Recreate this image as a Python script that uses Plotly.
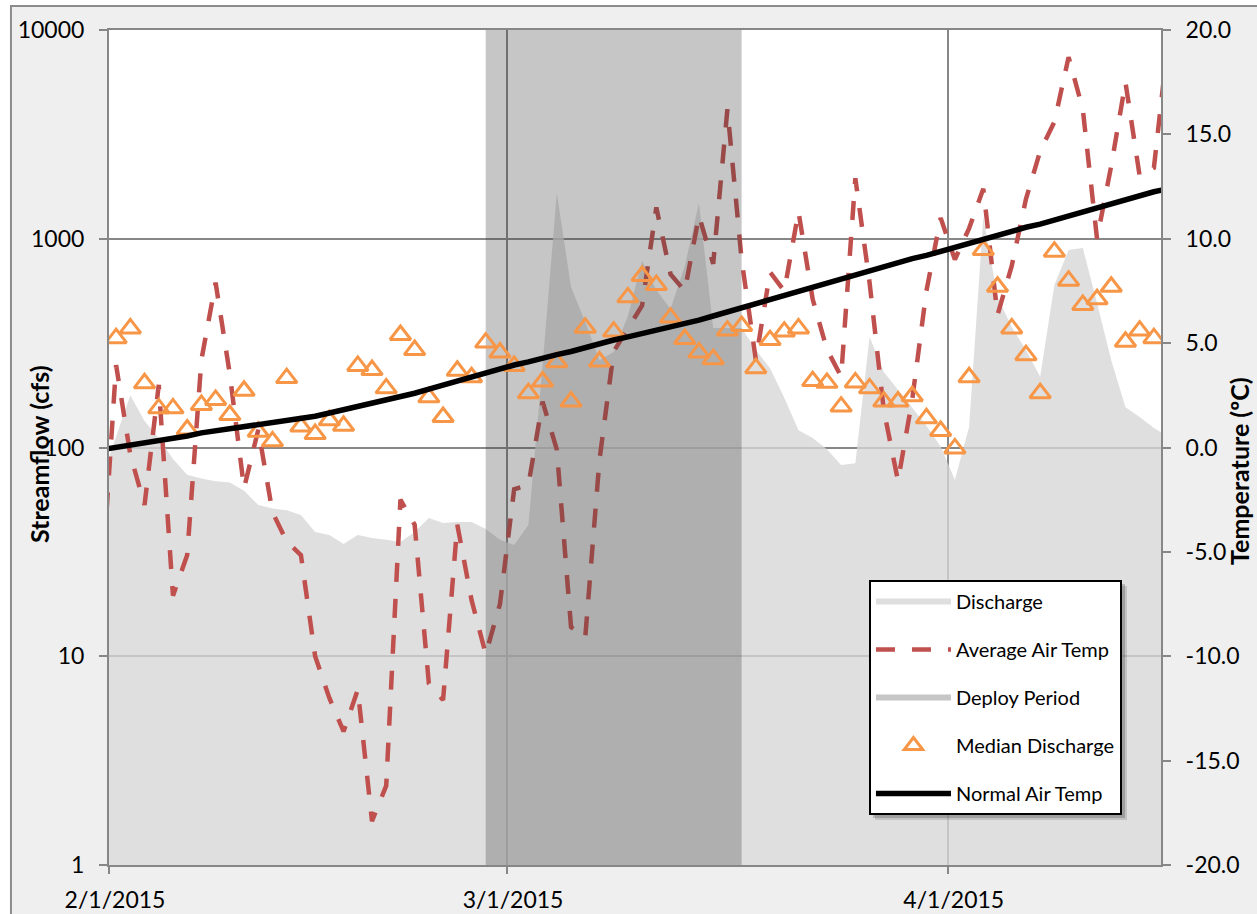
import pandas as pd
import plotly.graph_objects as go

# Daily series, 1/31/2015 - 4/16/2015. The first and last day fall just
# outside the axis window, so the traces run cleanly into the plot edges.
dates = pd.date_range("2015-01-31", "2015-04-16", freq="D")

discharge_cfs = [
    71, 113, 178, 134, 111, 88, 74, 71, 69, 68, 62, 53, 51, 50, 47.5, 39.4,
    38.1, 34.5, 38.1, 36.9, 36.1, 35.3, 39.4, 45.9, 43.5, 44, 44, 40.7, 36.1,
    34.1, 42.5, 248, 1656, 587, 399, 262, 287, 427, 782, 568, 461, 740, 1484,
    374, 374, 374, 293, 240, 173, 121, 111, 98, 82.5, 84, 338, 230, 189, 155,
    127, 101, 70, 125, 1271, 526, 378, 293, 218, 600, 883, 903, 492, 262, 156,
    140, 124, 113,
]

avg_air_temp_c = [
    -6.5, 3.95, -0.35, -2.75, 3.0, -7.1, -5.15, 4.2, 7.9, 3.5, -1.95, 0.85,
    -3.1, -4.5, -5.15, -10.0, -12.0, -13.6, -11.6, -17.9, -16.2, -2.5, -3.7,
    -11.3, -12.1, -3.7, -7.3, -9.9, -7.5, -2.0, -1.8, 2.2, -0.1, -8.6, -9.1,
    -0.6, 4.6, 5.7, 6.8, 11.5, 8.3, 7.5, 11.1, 8.8, 16.2, 9.0, 4.2, 8.4, 7.5,
    11.3, 7.1, 4.7, 3.4, 12.9, 7.9, 1.8, -1.6, 2.3, 7.5, 11.0, 9.0, 10.5, 12.4,
    6.35, 8.7, 11.9, 14.2, 15.6, 18.7, 16.2, 10.0, 13.5, 17.5, 13.0, 13.4, 19.5,
]

median_discharge_cfs = [
    None,
    334, 372, 203, 154, 154, 122, 160, 169, 143, 187, 119, 107, 215, 126, 116,
    135, 127, 246, 235, 192, 346, 293, 174, 140, 233, 217, 318, 285, 246, 182,
    207, 256, 166, 375, 258, 359, 524, 663, 600, 419, 331, 285, 265, 363, 382,
    240, 327, 359, 372, 208, 204, 157, 205, 192, 166, 166, 176, 138, 120, 99,
    217, 883, 589, 372, 277, 182, 867, 630, 482, 513, 589, 321, 363, 334,
    None,
]

normal_air_temp_c = [
    -0.1, 0.0, 0.1, 0.2, 0.3, 0.45, 0.55, 0.7, 0.8, 0.9, 1.0, 1.1, 1.2, 1.25,
    1.35, 1.5, 1.65, 1.8, 1.95, 2.1, 2.25, 2.45, 2.6, 2.8, 3.0, 3.15, 3.35,
    3.55, 3.75, 3.95, 4.1, 4.3, 4.45, 4.6, 4.8, 4.95, 5.15, 5.3, 5.45, 5.6,
    5.8, 5.95, 6.1, 6.3, 6.5, 6.7, 6.9, 7.1, 7.3, 7.5, 7.7, 7.9, 8.1, 8.3,
    8.5, 8.7, 8.9, 9.05, 9.2, 9.4, 9.6, 9.8, 10.0, 10.2, 10.4, 10.55, 10.7,
    10.9, 11.05, 11.25, 11.45, 11.65, 11.85, 12.05, 12.25, 12.4,
]

deploy_period = ["2015-02-27", "2015-03-17"]

axis_window = ["2015-02-01", "2015-04-16"]
date_ticks = ["2015-02-01", "2015-03-01", "2015-04-01"]
streamflow_ticks = [1, 10, 100, 1000, 10000]
temperature_ticks = [-20, -15, -10, -5, 0, 5, 10, 15, 20]

# Each daily value is centred in its day slot.
half_day = pd.Timedelta(hours=12)
x_days = dates + half_day
x_deploy = pd.to_datetime(deploy_period) + half_day

FONT = "Lato, Carlito, 'Open Sans', sans-serif"
GRID = "#878787"
RED = "#c0504d"
ORANGE = "#f79646"

fig = go.Figure()

fig.add_trace(go.Scatter(
    x=x_days, y=discharge_cfs, name="Discharge", yaxis="y",
    mode="none", fill="tozeroy", fillcolor="rgba(214,214,214,0.78)",
    legendgroup="a", hoverinfo="skip",
))
fig.add_trace(go.Scatter(
    x=x_days, y=avg_air_temp_c, name="Average Air Temp", yaxis="y2",
    mode="lines", line=dict(color=RED, width=4.5, dash="19px,17px"),
    legendgroup="b",
))
fig.add_trace(go.Scatter(
    x=x_deploy, y=[1, 1], name="Deploy Period", yaxis="y3",
    mode="none", fill="tozeroy", fillcolor="rgba(58,58,58,0.29)",
    legendgroup="c", hoverinfo="skip",
))
fig.add_trace(go.Scatter(
    x=x_days, y=median_discharge_cfs, name="Median Discharge", yaxis="y4",
    mode="markers",
    marker=dict(symbol="triangle-up-open", size=18, color=ORANGE,
                line=dict(color=ORANGE, width=3)),
    legendgroup="d",
))
fig.add_trace(go.Scatter(
    x=x_days, y=normal_air_temp_c, name="Normal Air Temp", yaxis="y5",
    mode="lines", line=dict(color="black", width=5.5),
    legendgroup="e",
))

tick_font = dict(family=FONT, size=23, color="black")
title_font = dict(family=FONT, size=25, color="black")

fig.update_layout(
    width=1257, height=914, autosize=False,
    margin=dict(l=109, r=96, t=30, b=49),
    paper_bgcolor="white", plot_bgcolor="white",
    font=dict(family=FONT, color="black"),
    xaxis=dict(
        type="date", range=axis_window, tickvals=date_ticks,
        tickformat="%-m/%-d/%Y", tickfont=tick_font, automargin=False,
        showline=True, linecolor=GRID, linewidth=2, mirror=True,
        ticks="outside", ticklen=7, tickwidth=1.5, tickcolor=GRID,
        showgrid=True, gridcolor=GRID, gridwidth=1.5, zeroline=False,
        ticklabelshift=6, ticklabelstandoff=6,
    ),
    yaxis=dict(
        type="log", range=[0, 4], tickvals=streamflow_ticks,
        ticktext=[str(v) for v in streamflow_ticks], tickfont=tick_font,
        automargin=False,
        showline=True, linecolor=GRID, linewidth=2,
        ticks="outside", ticklen=8, tickwidth=1.5, tickcolor=GRID,
        showgrid=True, gridcolor=GRID, gridwidth=1.5, zeroline=False,
        ticklabelstandoff=10,
    ),
    yaxis2=dict(
        overlaying="y", side="right", range=[-20, 20],
        tickvals=temperature_ticks,
        ticktext=[f"{v:.1f}" for v in temperature_ticks], tickfont=tick_font,
        automargin=False,
        showline=True, linecolor=GRID, linewidth=2,
        ticks="outside", ticklen=8, tickwidth=1.5, tickcolor=GRID,
        showgrid=False, zeroline=False, ticklabelstandoff=10,
    ),
    yaxis3=dict(overlaying="y", range=[0, 1], visible=False),
    yaxis4=dict(overlaying="y", type="log", range=[0, 4], visible=False),
    yaxis5=dict(overlaying="y", range=[-20, 20], visible=False),
    legend=dict(
        x=0.7224, y=0.3413, xanchor="left", yanchor="top",
        bgcolor="white", bordercolor="black", borderwidth=2,
        font=dict(family=FONT, size=20, color="black"),
        traceorder="grouped", tracegroupgap=19, itemwidth=75,
    ),
    showlegend=True,
    shapes=[
        # chart frame with its light fill
        dict(type="rect", xref="paper", yref="paper",
             x0=-0.0932, x1=1.2, y0=-0.2, y1=1.0287, layer="below",
             fillcolor="#efefef", line=dict(color="#8c8c8c", width=2)),
        # plot area
        dict(type="rect", xref="paper", yref="paper",
             x0=0, x1=1, y0=0, y1=1, layer="below",
             fillcolor="white", line=dict(width=0)),
        # soft drop shadow under the legend box
        dict(type="rect", xref="paper", yref="paper",
             x0=0.7281, x1=0.9677, y0=0.0539, y1=0.3341, layer="above",
             fillcolor="rgba(0,0,0,0.12)", line=dict(width=0)),
        dict(type="rect", xref="paper", yref="paper",
             x0=0.7262, x1=0.9658, y0=0.0563, y1=0.3365, layer="above",
             fillcolor="rgba(0,0,0,0.18)", line=dict(width=0)),
    ],
    annotations=[
        dict(text="<b>Streamflow (cfs)</b>", xref="paper", yref="paper",
             x=-0.0665, y=0.4922, xanchor="center", yanchor="middle",
             textangle=-90, showarrow=False, font=title_font),
        dict(text="<b>Temperature (ºC)</b>", xref="paper", yref="paper",
             x=1.0741, y=0.4719, xanchor="center", yanchor="middle",
             textangle=-90, showarrow=False, font=title_font),
    ],
)

fig.write_html("out.html")
